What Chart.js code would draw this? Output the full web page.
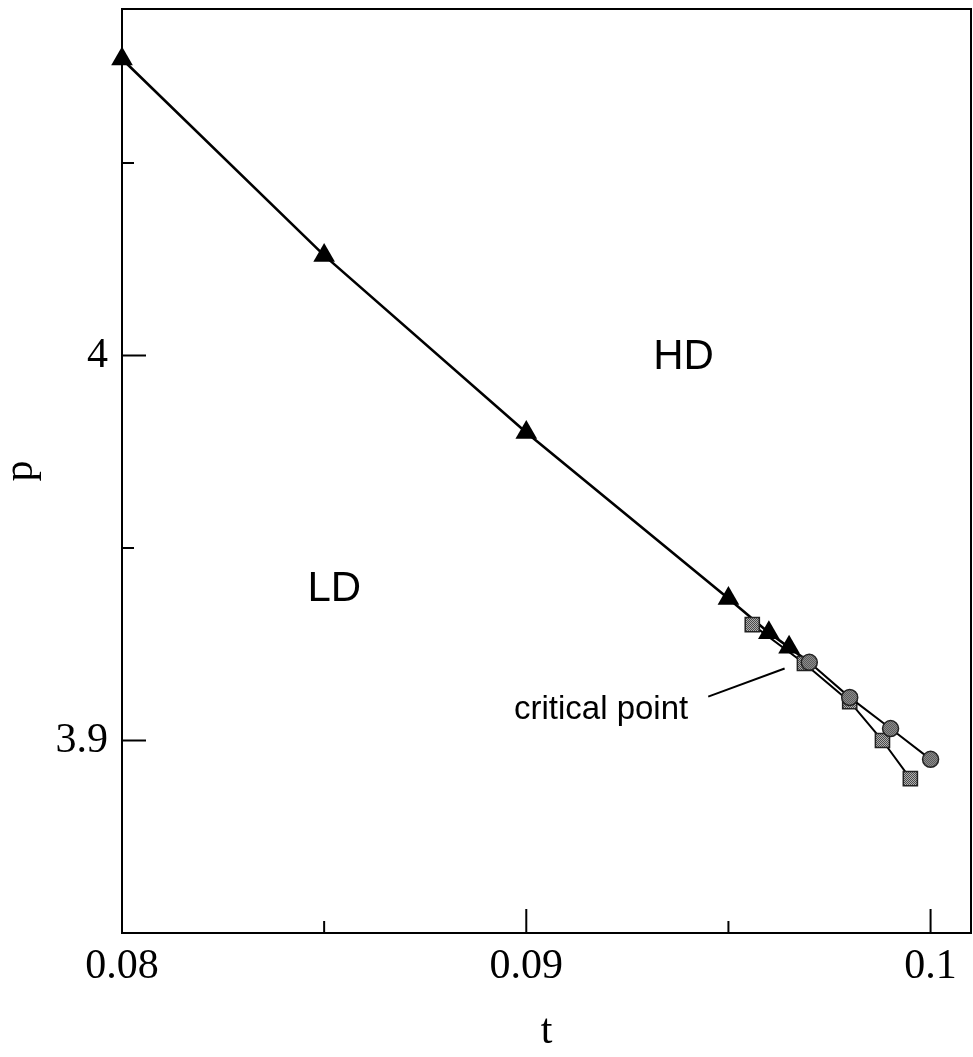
<!DOCTYPE html>
<html>
<head>
<meta charset="utf-8">
<script src="https://cdn.jsdelivr.net/npm/chart.js@4.4.1/dist/chart.umd.min.js"></script>
<style>
    html, body { margin: 0; padding: 0; background: #fff; }
    #wrap { width: 973px; height: 1057px; }
</style>
</head>
<body>
<div id="wrap"><canvas id="chart" width="973" height="1057"></canvas></div>
<script>
    'use strict';

    // triangles: transition line, squares and circles: two branches past the critical point
    const triT = [0.080, 0.085, 0.090, 0.0950, 0.0960, 0.0965];
    const triP = [4.077, 4.026, 3.980, 3.9369, 3.9280, 3.9242];
    const sqT = [0.09559, 0.09688, 0.09800, 0.09881, 0.09950];
    const sqP = [3.9301, 3.9200, 3.9101, 3.9000, 3.8901];
    const circT = [0.09700, 0.09800, 0.09901, 0.10000];
    const circP = [3.9203, 3.9112, 3.9031, 3.8951];

    const xTicks = [0.080, 0.085, 0.090, 0.095, 0.100];
    const xLabels = ['0.08', '', '0.09', '', '0.1'];
    const yTicks = [3.85, 3.90, 3.95, 4.00, 4.05];
    const yLabels = ['', '3.9', '', '4', ''];

    const SERIF = '"Liberation Serif", "Times New Roman", serif';
    const SANS = '"Liberation Sans", Arial, sans-serif';

    function pts(xs, ys) {
        return xs.map(function (x, i) { return { x: x, y: ys[i] }; });
    }

    function hatch(light, dark) {
        const c = document.createElement('canvas');
        c.width = 2;
        c.height = 2;
        const g = c.getContext('2d');
        g.fillStyle = light;
        g.fillRect(0, 0, 2, 2);
        g.fillStyle = dark;
        g.fillRect(0, 0, 1, 1);
        g.fillRect(1, 1, 1, 1);
        return g.createPattern(c, 'repeat');
    }

    // last triangle joins the first circle, without a marker there
    const triData = pts(triT, triP).concat([{ x: circT[0], y: circP[0] }]);

    const frameAndTicks = {
        id: 'frameAndTicks',
        afterDraw: function (chart) {
            const { ctx, chartArea: a, scales: { x, y } } = chart;
            ctx.save();
            ctx.strokeStyle = '#000';
            ctx.lineWidth = 2;
            ctx.strokeRect(a.left, a.top, a.right - a.left, a.bottom - a.top);
            xTicks.forEach(function (v, i) {
                const px = x.getPixelForValue(v);
                const len = xLabels[i] ? 24 : 12;
                ctx.beginPath();
                ctx.moveTo(px, a.bottom);
                ctx.lineTo(px, a.bottom - len);
                ctx.stroke();
            });
            yTicks.forEach(function (v, i) {
                const py = y.getPixelForValue(v);
                const len = yLabels[i] ? 24 : 12;
                ctx.beginPath();
                ctx.moveTo(a.left, py);
                ctx.lineTo(a.left + len, py);
                ctx.stroke();
            });
            ctx.restore();
        },
    };

    const notes = {
        id: 'notes',
        afterDatasetsDraw: function (chart) {
            const { ctx, scales: { x, y } } = chart;
            ctx.save();
            ctx.fillStyle = '#000';
            ctx.textAlign = 'center';
            ctx.textBaseline = 'middle';
            ctx.font = '42px ' + SANS;
            ctx.fillText('HD', x.getPixelForValue(0.09389), y.getPixelForValue(3.9995));
            ctx.fillText('LD', x.getPixelForValue(0.08525), y.getPixelForValue(3.9392));
            ctx.font = '33px ' + SANS;
            ctx.fillText('critical point', x.getPixelForValue(0.09185), y.getPixelForValue(3.9080));
            ctx.strokeStyle = '#000';
            ctx.lineWidth = 2;
            ctx.beginPath();
            ctx.moveTo(x.getPixelForValue(0.09450), y.getPixelForValue(3.9114));
            ctx.lineTo(x.getPixelForValue(0.09639), y.getPixelForValue(3.9187));
            ctx.stroke();
            ctx.restore();
        },
    };

    new Chart(document.getElementById('chart'), {
        type: 'scatter',
        data: {
            datasets: [{
                data: pts(circT, circP),
                showLine: true,
                clip: false,
                borderColor: '#000',
                borderWidth: 2,
                pointStyle: 'circle',
                pointRadius: 8,
                pointBorderWidth: 1.5,
                pointBorderColor: '#222',
                pointBackgroundColor: hatch('#8c8c8c', '#5c5c5c'),
            }, {
                data: pts(sqT, sqP),
                showLine: true,
                clip: false,
                borderColor: '#000',
                borderWidth: 2,
                pointStyle: 'rect',
                pointRadius: 10,
                pointBorderWidth: 1.5,
                pointBorderColor: '#222',
                pointBackgroundColor: hatch('#b0b0b0', '#4a4a4a'),
            }, {
                data: triData,
                showLine: true,
                clip: false,
                borderColor: '#000',
                borderWidth: 2.6,
                pointStyle: 'triangle',
                pointRadius: function (c) { return c.dataIndex < triT.length ? 12.5 : 0; },
                pointBorderWidth: 0,
                pointBackgroundColor: '#000',
            }],
        },
        options: {
            responsive: false,
            animation: false,
            events: [],
            layout: { autoPadding: false, padding: { top: 9, right: 2, left: 0, bottom: 0 } },
            plugins: { legend: { display: false }, tooltip: { enabled: false } },
            scales: {
                x: {
                    type: 'linear',
                    min: 0.08,
                    max: 0.101,
                    border: { display: false },
                    grid: { display: false },
                    afterBuildTicks: function (s) { s.ticks = xTicks.map(function (v) { return { value: v }; }); },
                    afterFit: function (s) {
                        s.height = 124;
                        s.paddingLeft = 0;
                        s.paddingRight = 0;
                    },
                    ticks: {
                        autoSkip: false,
                        maxRotation: 0,
                        padding: 1,
                        color: '#000',
                        font: { family: SERIF, size: 42 },
                        callback: function (v, i) { return xLabels[i]; },
                    },
                    title: {
                        display: true,
                        text: 't',
                        color: '#000',
                        padding: { top: 0, bottom: 0 },
                        font: { family: SERIF, size: 42 },
                    },
                },
                y: {
                    type: 'linear',
                    min: 3.85,
                    max: 4.09,
                    border: { display: false },
                    grid: { display: false },
                    afterBuildTicks: function (s) { s.ticks = yTicks.map(function (v) { return { value: v }; }); },
                    afterFit: function (s) {
                        s.width = 122;
                        s.paddingTop = 0;
                        s.paddingBottom = 0;
                    },
                    ticks: {
                        autoSkip: false,
                        padding: 6,
                        color: '#000',
                        font: { family: SERIF, size: 42 },
                        callback: function (v, i) { return yLabels[i]; },
                    },
                    title: {
                        display: true,
                        text: 'p',
                        color: '#000',
                        padding: { top: -4, bottom: 0 },
                        font: { family: SERIF, size: 42 },
                    },
                },
            },
        },
        plugins: [frameAndTicks, notes],
    });
</script>
</body>
</html>
